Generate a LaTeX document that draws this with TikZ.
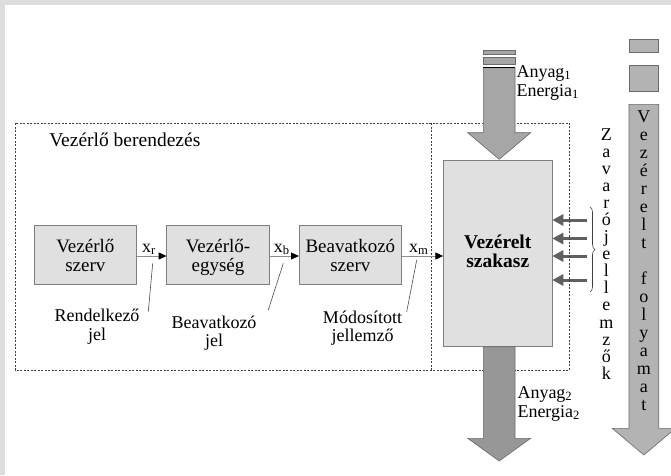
\documentclass[tikz,border=0pt]{standalone}
\usepackage{fontspec}
\setmainfont{Liberation Serif}
\usetikzlibrary{arrows.meta,decorations.pathreplacing}
\definecolor{framegray}{HTML}{DDDDDD}
\definecolor{boxfill}{HTML}{E0E0E0}
\definecolor{boxline}{HTML}{7F7F7F}
\definecolor{infill}{HTML}{A6A6A6}
\definecolor{outfill}{HTML}{979797}
\definecolor{colfill}{HTML}{B3B3B3}
\definecolor{arrline}{HTML}{6A6A6A}
\definecolor{distgray}{HTML}{606060}
\definecolor{dashgray}{HTML}{404040}
\begin{document}
\begin{tikzpicture}[x=1pt,y=-1pt,
  every node/.style={inner sep=0pt,outer sep=0pt},
  lbl/.style={font=\fontsize{18}{18.3}\selectfont,align=center},
  sidelbl/.style={font=\fontsize{18}{19}\selectfont,align=left,anchor=west},
  boxtxt/.style={font=\fontsize{19}{19}\selectfont,align=center},
  blk/.style={draw=boxline,fill=boxfill,line width=0.6pt},
  sig/.style={draw=black!45,line width=0.9pt,-{Triangle[length=8pt,width=7pt,color=black]}},
  pointer/.style={draw=black!70,line width=0.6pt},
  dist/.style={draw=distgray,line width=3pt,-{Triangle[length=11pt,width=11pt]}},
  bigarrow/.style={draw=arrline,line width=0.6pt},
  dashframe/.style={draw=dashgray,line width=0.6pt,dash pattern=on 2pt off 1.5pt},
  vlet/.style={font=\fontsize{18}{18}\selectfont,anchor=base}]
\useasboundingbox (0,0) rectangle (671,475);
\clip (0,0) rectangle (671,475);
\fill[framegray] (0,0) rectangle (671,475);
\fill[white] (4.5,4.5) rectangle (671,475);

% blocks
\node[blk,minimum width=102.7pt,minimum height=59pt] (b1) at (85.35,254.5) {};
\node[blk,minimum width=102.7pt,minimum height=59pt] (b2) at (218,254.5) {};
\node[blk,minimum width=102.7pt,minimum height=59pt] (b3) at (350.35,254.5) {};
\node[blk,minimum width=109pt,minimum height=186.7pt] (vs) at (497.8,253.35) {};

\node[boxtxt,yshift=-4pt] (t1) at (b1) {Vezérlő\strut\\szerv\strut};
\node[boxtxt,yshift=-4pt] (t2) at (b2) {Vezérlő-\strut\\egység\strut};
\node[boxtxt,yshift=-4pt] (t3) at (b3) {Beavatkozó\strut\\szerv\strut};
\node[font=\fontsize{19.5}{19.5}\selectfont\bfseries,align=center] (t4) at (497.8,253.85) {Vezérelt\strut\\szakasz\strut};

% disturbance arrows
\foreach \yy [count=\k] in {220,238.5,256,280} {
  \coordinate (d\k) at (586.7,\yy);
  \draw[dist] (d\k) -- (vs.east |- d\k);
}
\coordinate (bt) at (590,207);
\coordinate (bb) at (590,292);
\draw[draw=black!75,line width=0.6pt,decorate,decoration={brace,amplitude=5pt}] (bt) -- (bb);

% dashed frame
\draw[dashframe] (15,123.3) rectangle (569.7,370);
\draw[dashframe] (431.7,123.3) -- (431.7,370);
\node[font=\fontsize{19.5}{19.5}\selectfont,anchor=base west] (title) at (49.3,146.5) {Vezérlő berendezés};

% signal arrows
\coordinate (sy) at (0,256);
\draw[sig] (b1.east |- sy) -- (b2.west |- sy);
\draw[sig] (b2.east |- sy) -- (b3.west |- sy);
\draw[sig] (b3.east |- sy) -- (vs.west |- sy);
\node[lbl,anchor=base west] (xr) at (142,252) {x\textsubscript{r}};
\node[lbl,anchor=base west] (xb) at (273.8,252) {x\textsubscript{b}};
\node[lbl,anchor=base west] (xm) at (409,252) {x\textsubscript{m}};

% pointers and labels
\coordinate (p1a) at (152.7,263.3); \coordinate (p1b) at (148.3,311.7);
\coordinate (p2a) at (283.3,263.3); \coordinate (p2b) at (268.3,310);
\coordinate (p3a) at (416.7,260);   \coordinate (p3b) at (406.7,311.7);
\draw[pointer] (p1a) -- (p1b);
\draw[pointer] (p2a) -- (p2b);
\draw[pointer] (p3a) -- (p3b);
\node[lbl] (l1) at (97,327.2) {Rendelkező\strut\\jel\strut};
\node[lbl] (l2) at (214,333.8) {Beavatkozó\strut\\jel\strut};
\node[lbl] (l3) at (362.5,328.8) {Módosított\strut\\jellemző\strut};

% input arrow
\fill[infill,draw=arrline,line width=0.6pt] (483.3,50.7) rectangle (515,54.3);
\fill[infill,draw=arrline,line width=0.6pt] (483.3,57.7) rectangle (515,64.3);
\filldraw[infill,bigarrow] (483.3,67.7) -- (515,67.7) -- (515,132.7) -- (530.7,132.7)
  -- (499.15,159.3) -- (467.7,132.7) -- (483.3,132.7) -- cycle;
\draw[black,line width=1pt] (483.3,67.7) -- (515,67.7);
\node[sidelbl] (in) at (516.5,82.7) {Anyag\textsubscript{1}\strut\\Energia\textsubscript{1}\strut};

% output arrow
\filldraw[outfill,bigarrow] (483.3,346.7) -- (515,346.7) -- (515,438.3) -- (530.7,438.3)
  -- (499.15,461) -- (467.7,438.3) -- (483.3,438.3) -- cycle;
\node[sidelbl] (out) at (517.5,403.7) {Anyag\textsubscript{2}\strut\\Energia\textsubscript{2}\strut};

% right column
\filldraw[colfill,bigarrow] (629,39.3) rectangle (658.7,52.3);
\filldraw[colfill,bigarrow] (629,65) rectangle (658.7,91);
\filldraw[colfill,bigarrow] (629,104.3) -- (658.7,104.3) -- (658.7,428.3) -- (675.5,428.3)
  -- (643.85,455) -- (612.2,428.3) -- (629,428.3) -- cycle;

% vertical texts
\foreach \c [count=\i from 0] in {Z,a,v,a,r,ó,j,e,l,l,e,m,z,ő,k}
  \node[vlet] (z\i) at (606.3,140+17.09*\i) {\c};
\foreach \c [count=\i from 0] in {V,e,z,é,r,e,l,t}
  \node[vlet] (v\i) at (643.85,122.7+18*\i) {\c};
\foreach \c [count=\i from 9] in {f,o,l,y,a,m,a,t}
  \node[vlet] (v\i) at (643.85,122.7+18*\i) {\c};
\end{tikzpicture}
\end{document}
